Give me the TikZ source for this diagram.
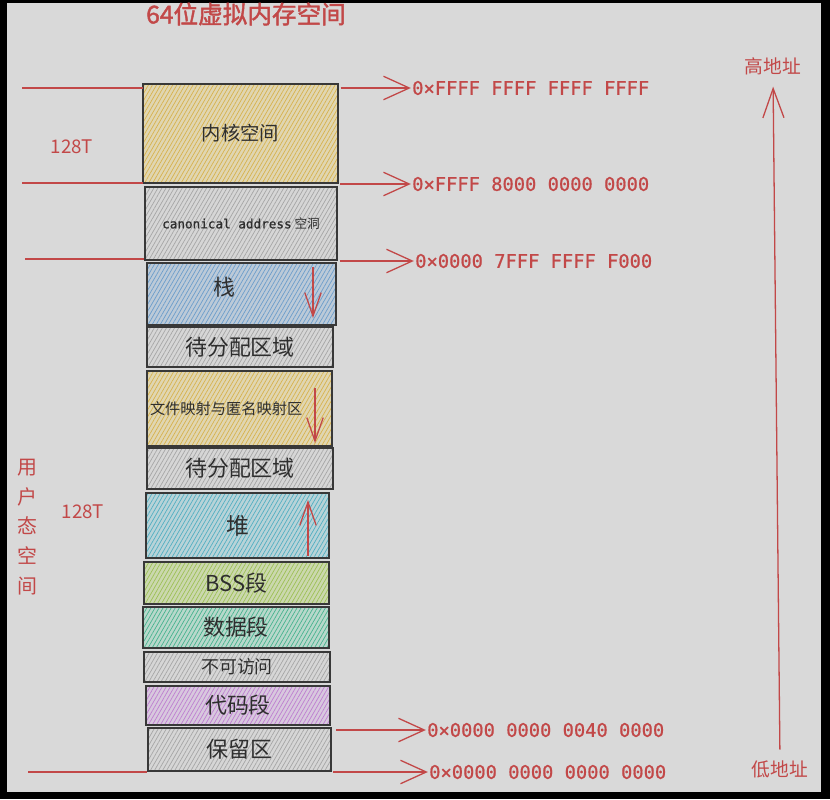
\documentclass[tikz,border=0pt]{standalone}
\usepackage{fontspec}
\setmainfont{Noto Sans CJK SC}
\newfontfamily\hexfont[FakeBold=0.8]{DejaVu Sans Mono}
\newfontfamily\titlefont[FakeBold=1.6]{Noto Sans CJK SC}
\usetikzlibrary{arrows.meta,patterns.meta}

\definecolor{paper}{HTML}{D9D9D9}
\definecolor{addr}{HTML}{C24848}
\definecolor{ylwfill}{HTML}{E0D6B2}
\definecolor{ylwline}{HTML}{D8B24C}
\definecolor{grayfill}{HTML}{D6D6D6}
\definecolor{grayline}{HTML}{A6A6A6}
\definecolor{stackfill}{HTML}{BCCAD8}
\definecolor{stackline}{HTML}{6C9DCB}
\definecolor{heapfill}{HTML}{B8D3D8}
\definecolor{heapline}{HTML}{52AFC2}
\definecolor{bssfill}{HTML}{CBD8AE}
\definecolor{bssline}{HTML}{9DC055}
\definecolor{datafill}{HTML}{B8D8CB}
\definecolor{dataline}{HTML}{47B38F}
\definecolor{codefill}{HTML}{D8C8DE}
\definecolor{codeline}{HTML}{BE7FD0}

\tikzset{
  seg/.style={draw=black!78,line width=1.2pt,inner sep=0pt,align=center,text=black!82,
    font=\fontsize{18.7}{20}\selectfont},
  hatch/.style 2 args={preaction={fill=#1},
    pattern={Lines[angle=60,distance=3pt,line width=0.6pt]},pattern color=#2},
  lead/.style={draw=addr,line width=1.1pt},
  ptr/.style={lead,shorten >=1pt,-{Straight Barb[length=22pt,width=20pt]}},
  growarrow/.style={lead,-{Straight Barb[length=20pt,width=14pt]}},
  hexlabel/.style={text=addr,anchor=west,inner sep=0pt,
    font=\hexfont\fontsize{16}{18}\selectfont},
  redlabel/.style={text=addr,inner sep=0pt,font=\fontsize{16}{18}\selectfont},
}

\begin{document}
\begin{tikzpicture}[x=0.03cm,y=-0.03cm]

  \useasboundingbox (0,0) rectangle (830,799);
  \fill[black] (0,0) rectangle (830,799);
  \fill[paper] (7,3) rectangle (821,792);

  \node (TITLE) at (246,14) [text=addr,font=\titlefont\fontsize{21}{23}\selectfont] {64位虚拟内存空间};

  % segments, top to bottom
  \node (KERNEL) at (240.5,133.5) [seg,hatch={ylwfill}{ylwline},minimum width=5.85cm,minimum height=2.97cm,
    font=\fontsize{16.5}{18}\selectfont] {内核空间};
  \node (HOLE) at (241,223.5) [seg,hatch={grayfill}{grayline},minimum width=5.76cm,minimum height=2.19cm,
    font=\fontsize{10.8}{12}\selectfont] {{\hexfont canonical address} 空洞};
  \node (STACK) at (241.5,294) [seg,hatch={stackfill}{stackline},minimum width=5.67cm,minimum height=1.86cm,
    label={[xshift=-0.5cm,yshift=0.21cm,text=black!82,font=\fontsize{18.7}{20}\selectfont]center:栈}] {};
  \node (FREEA) at (240,347) [seg,hatch={grayfill}{grayline},minimum width=5.58cm,minimum height=1.2cm] {待分配区域};
  \node (MMAP) at (239.5,408.5) [seg,hatch={ylwfill}{ylwline},minimum width=5.55cm,minimum height=2.25cm,
    label={[xshift=-0.4cm,text=black!82,font=\fontsize{13}{14}\selectfont]center:文件映射与匿名映射区}] {};
  \node (FREEB) at (240,468.5) [seg,hatch={grayfill}{grayline},minimum width=5.58cm,minimum height=1.23cm] {待分配区域};
  \node (HEAP) at (237.5,525.5) [seg,hatch={heapfill}{heapline},minimum width=5.49cm,minimum height=1.95cm,
    font=\fontsize{19.5}{21}\selectfont] {堆};
  \node (BSS) at (236.5,583) [seg,hatch={bssfill}{bssline},minimum width=5.55cm,minimum height=1.26cm] {BSS段};
  \node (DATA) at (236,627.5) [seg,hatch={datafill}{dataline},minimum width=5.58cm,minimum height=1.23cm] {数据段};
  \node (NOACC) at (237,667) [seg,hatch={grayfill}{grayline},minimum width=5.58cm,minimum height=0.9cm,
    font=\fontsize{15.3}{16}\selectfont] {不可访问};
  \node (CODE) at (238,705.5) [seg,hatch={codefill}{codeline},minimum width=5.52cm,minimum height=1.17cm] {代码段};
  \node (RESV) at (239.5,749.5) [seg,hatch={grayfill}{grayline},minimum width=5.49cm,minimum height=1.29cm] {保留区};

  % growth directions
  \coordinate (S1) at (313,267);
  \coordinate (S2) at (313,318);
  \coordinate (M1) at (315,388);
  \coordinate (M2) at (315,443);
  \coordinate (H1) at (308,556);
  \coordinate (H2) at (308,500);
  \draw[growarrow] (S1) -- (S2);
  \draw[growarrow] (M1) -- (M2);
  \draw[growarrow] (H1) -- (H2);

  % sizes
  \node (KSIZE) at (72,147) [redlabel] {128T};
  \node (USIZE) at (83,512) [redlabel] {128T};
  \node (USER) at (27,527) [redlabel,align=center,font=\fontsize{17}{25.5}\selectfont] {用\\户\\态\\空\\间};

  % boundaries on the left
  \coordinate (L1) at (22,88);
  \coordinate (L2) at (22,183);
  \coordinate (L3) at (25,259);
  \coordinate (L4) at (28,772);
  \draw[lead] (L1) -- (L1 -| KERNEL.west);
  \draw[lead] (L2) -- (L2 -| KERNEL.west);
  \draw[lead] (L3) -- (L3 -| HOLE.west);
  \draw[lead] (L4) -- (L4 -| RESV.west);

  % addresses on the right
  \node (A1) at (412,88) [hexlabel] {0×FFFF FFFF FFFF FFFF};
  \node (A2) at (412,184) [hexlabel] {0×FFFF 8000 0000 0000};
  \node (A3) at (415,261) [hexlabel] {0×0000 7FFF FFFF F000};
  \node (A4) at (427,730) [hexlabel] {0×0000 0000 0040 0000};
  \node (A5) at (429,772) [hexlabel] {0×0000 0000 0000 0000};
  \draw[ptr] ([xshift=2pt]A1.west -| KERNEL.east) -- (A1.west);
  \draw[ptr] ([xshift=2pt]A2.west -| HOLE.east) -- (A2.west);
  \draw[ptr] ([xshift=2pt]A3.west -| HOLE.east) -- (A3.west);
  \draw[ptr] ([xshift=4pt]A4.west -| RESV.east) -- (A4.west);
  \draw[ptr] ([xshift=1pt]A5.west -| RESV.east) -- (A5.west);

  % address direction
  \node (HIGH) at (773,66) [redlabel] {高地址};
  \node (LOW) at (780,769) [redlabel] {低地址};
  \draw[lead,shorten <=9pt,shorten >=10pt,-{Straight Barb[length=25pt,width=18pt]}] (LOW.north) -- (HIGH.south);

\end{tikzpicture}
\end{document}
